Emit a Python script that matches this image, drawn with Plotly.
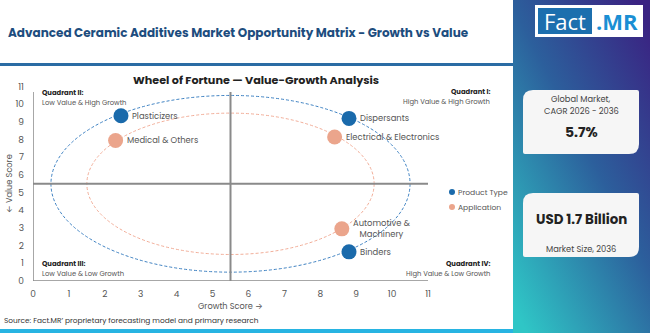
import base64
import plotly.graph_objects as go

W, H = 650, 333
FONT = "Poppins, Inter, sans-serif"

# ---- data ----
product_names = ["Plasticizers", "Dispersants", "Binders"]
product_growth = [2.45, 8.8, 8.8]
product_value = [9.35, 9.2, 1.65]

app_names = ["Medical & Others", "Electrical & Electronics", "Automotive &<br>Machinery"]
app_growth = [2.3, 8.4, 8.6]
app_value = [7.95, 8.15, 2.95]

tick_vals = list(range(0, 12))
center = 5.5
ring_radii = [5.0, 4.0]

BLUE = "#1a6aab"
ORANGE = "#eba58c"
RING_BLUE = "#3f82c2"
RING_ORANGE = "#f1ad98"
GRAY_LINE = "#8a8a8a"


def px(x):
    return x / W


def py(y):
    return 1 - y / H


fig = go.Figure()

fig.add_trace(go.Scatter(x=product_growth, y=product_value, mode="markers", name="Product Type",
                         marker=dict(size=15, color=BLUE, line=dict(width=0)), showlegend=False,
                         hoverinfo="skip"))
fig.add_trace(go.Scatter(x=app_growth, y=app_value, mode="markers", name="Application",
                         marker=dict(size=15, color=ORANGE, line=dict(width=0)), showlegend=False,
                         hoverinfo="skip"))

annotations = []
for names, xs, ys in [(product_names, product_growth, product_value), (app_names, app_growth, app_value)]:
    for n, x, y in zip(names, xs, ys):
        annotations.append(dict(x=x, y=y, xref="x", yref="y", text=n, showarrow=False,
                                xanchor="left", yanchor="middle", xshift=9, align="center",
                                font=dict(family=FONT, size=8.4, color="#555555")))

shapes = []
# rings
for r, col in zip(ring_radii, [RING_BLUE, RING_ORANGE]):
    shapes.append(dict(type="circle", xref="x", yref="y", x0=center - r, x1=center + r,
                       y0=center - r, y1=center + r, line=dict(color=col, width=1, dash="3px,2px"),
                       layer="below"))
# axis & quadrant lines
shapes += [
    dict(type="line", xref="x", yref="y", x0=0, x1=11, y0=0, y1=0, line=dict(color=GRAY_LINE, width=1.5)),
    dict(type="line", xref="x", yref="y", x0=0, x1=0, y0=0, y1=10.7, line=dict(color=GRAY_LINE, width=1.5)),
    dict(type="line", xref="x", yref="y", x0=center, x1=center, y0=0, y1=10.7, line=dict(color=GRAY_LINE, width=2)),
    dict(type="line", xref="x", yref="y", x0=0, x1=11, y0=center, y1=center, line=dict(color=GRAY_LINE, width=2)),
]
# header rule and bottom bar
shapes.append(dict(type="rect", xref="paper", yref="paper", x0=0, x1=px(513), y0=py(66), y1=py(63),
                   fillcolor="#2a6ca4", line=dict(width=0)))
shapes.append(dict(type="rect", xref="paper", yref="paper", x0=0, x1=px(513), y0=py(333), y1=py(329),
                   fillcolor="#27b4e2", line=dict(width=0)))


def card(x0, y0, x1, y1, rbig=10, rsm=2):
    p = (f"M {px(x0 + rbig)} {py(y0)} L {px(x1 - rsm)} {py(y0)} "
         f"Q {px(x1)} {py(y0)} {px(x1)} {py(y0 + rsm)} L {px(x1)} {py(y1 - rbig)} "
         f"Q {px(x1)} {py(y1)} {px(x1 - rbig)} {py(y1)} L {px(x0 + rsm)} {py(y1)} "
         f"Q {px(x0)} {py(y1)} {px(x0)} {py(y1 - rsm)} L {px(x0)} {py(y0 + rbig)} "
         f"Q {px(x0)} {py(y0)} {px(x0 + rbig)} {py(y0)} Z")
    return dict(type="path", xref="paper", yref="paper", path=p, fillcolor="#f6f6f6",
                line=dict(width=0))


shapes.append(card(523, 90, 639, 154))
shapes.append(card(523, 193, 639, 257))

# logo boxes
shapes.append(dict(type="rect", xref="paper", yref="paper", x0=px(535), x1=px(643), y0=py(37), y1=py(5),
                   fillcolor="white", line=dict(width=0)))
shapes.append(dict(type="rect", xref="paper", yref="paper", x0=px(538), x1=px(592), y0=py(34), y1=py(8),
                   fillcolor="#1c6fae", line=dict(width=0)))

# legend dots
shapes.append(dict(type="circle", xref="paper", yref="paper", x0=px(449), x1=px(455), y0=py(195), y1=py(189),
                   fillcolor=BLUE, line=dict(width=0)))
shapes.append(dict(type="circle", xref="paper", yref="paper", x0=px(449), x1=px(455), y0=py(210), y1=py(204),
                   fillcolor=ORANGE, line=dict(width=0)))


def ann(x, y, text, size, color="#555555", xanchor="left", bold=False, family=FONT, align="left"):
    t = f"<b>{text}</b>" if bold else text
    annotations.append(dict(x=px(x), y=py(y), xref="paper", yref="paper", text=t, showarrow=False,
                            xanchor=xanchor, yanchor="middle", align=align,
                            font=dict(family=family, size=size, color=color)))


ann(6, 33, "Advanced Ceramic Additives Market Opportunity Matrix - Growth vs Value", 12, "#1d4d7e", bold=True)
ann(256, 80, "Wheel of Fortune — Value-Growth Analysis", 11.2, "#222222", xanchor="center", bold=True)
# quadrant labels
ann(40, 92, "Quadrant II:", 6.8, "#222222", bold=True)
ann(40, 102, "Low Value & High Growth", 6.8)
ann(492, 91.5, "Quadrant I:", 6.8, "#222222", xanchor="right", bold=True)
ann(492, 101.5, "High Value & High Growth", 6.8, xanchor="right")
ann(40, 263, "Quadrant III:", 6.8, "#222222", bold=True)
ann(40, 273, "Low Value & Low Growth", 6.8)
ann(492, 263, "Quadrant IV:", 6.8, "#222222", xanchor="right", bold=True)
ann(492, 273, "High Value & Low Growth", 6.8, xanchor="right")
# legend
ann(456, 192, "Product Type", 7.6)
ann(456, 207, "Application", 7.6)
# axis titles
ann(230, 306, "Growth Score →", 8.2, xanchor="center")
annotations.append(dict(x=px(9), y=py(184), xref="paper", yref="paper", text="← Value Score", showarrow=False,
                        textangle=-90, xanchor="center", yanchor="middle",
                        font=dict(family=FONT, size=8.2, color="#555555")))
# source
ann(2, 320, "Source: Fact.MR’ proprietary forecasting model and primary research", 7.4, "#333333")
# cards
ann(581, 99, "Global Market,", 8.3, "#444444", xanchor="center")
ann(581, 111, "CAGR 2026 - 2036", 8.3, "#444444", xanchor="center")
ann(581, 132, "5.7%", 14, "#222222", xanchor="center", bold=True)
ann(581, 219, "USD 1.7 Billion", 13.4, "#222222", xanchor="center", bold=True)
ann(581, 249, "Market Size, 2036", 8.3, "#444444", xanchor="center")
# logo
ann(565, 21, "Fact", 22, "white", xanchor="center", family="Open Sans, sans-serif")
ann(617, 21, "<b>.MR</b>", 22, "#1a8fd4", xanchor="center", family="Open Sans, sans-serif")

# gradient panel
svg = (f"<svg xmlns='http://www.w3.org/2000/svg' width='137' height='333' viewBox='0 0 137 333' "
       f"preserveAspectRatio='none'><defs><linearGradient id='g' x1='0.9' y1='0' x2='0.1' y2='1'>"
       f"<stop offset='0' stop-color='#3a2382'/><stop offset='0.45' stop-color='#2c5f9c'/>"
       f"<stop offset='1' stop-color='#2fc6c6'/></linearGradient></defs>"
       f"<rect width='137' height='333' fill='url(#g)'/></svg>")
src = "data:image/svg+xml;base64," + base64.b64encode(svg.encode()).decode()

fig.update_layout(
    width=W, height=H, margin=dict(l=0, r=0, t=0, b=0),
    paper_bgcolor="white", plot_bgcolor="white",
    showlegend=False,
    shapes=shapes, annotations=annotations,
    images=[dict(source=src, xref="paper", yref="paper", x=px(513), y=1, sizex=137 / W, sizey=1,
                 sizing="stretch", xanchor="left", yanchor="top", layer="below")],
    xaxis=dict(domain=[px(33), px(428)], range=[0, 11], tickvals=tick_vals, showgrid=False,
               zeroline=False, showline=False, ticks="", ticklabelstandoff=6, automargin=False,
               tickfont=dict(family=FONT, size=9, color="#555555")),
    yaxis=dict(domain=[py(281), py(86.6)], range=[0, 11], tickvals=tick_vals, showgrid=False,
               zeroline=False, showline=False, ticks="", ticklabelstandoff=8, automargin=False,
               tickfont=dict(family=FONT, size=9, color="#555555")),
)

fig.write_html("out.html")
